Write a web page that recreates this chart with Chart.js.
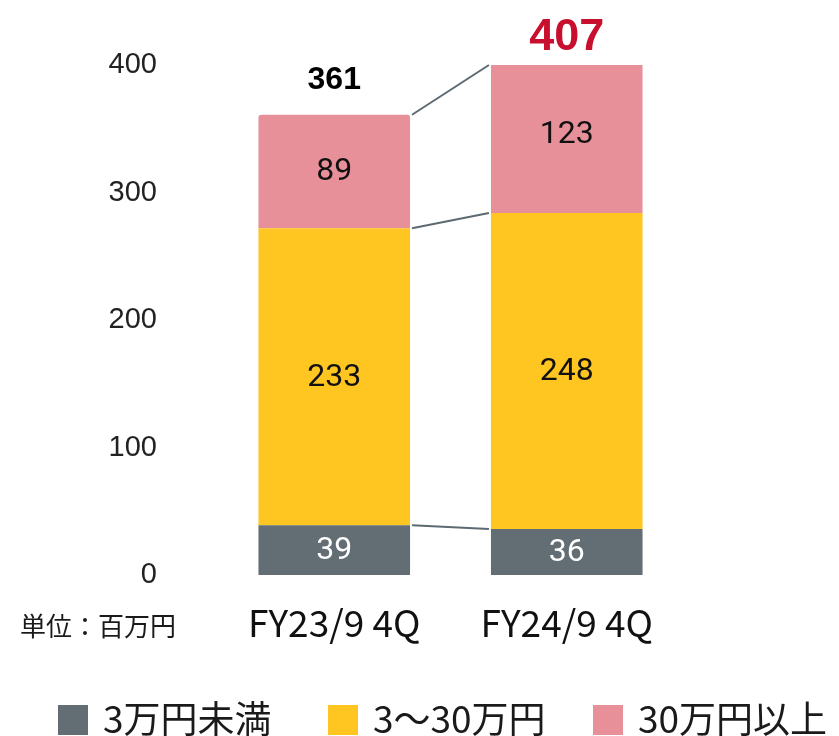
<!DOCTYPE html>
<html>
<head>
<meta charset="utf-8">
<script src="https://cdn.jsdelivr.net/npm/chart.js@4.4.1/dist/chart.umd.min.js"></script>
<style>
  html, body { margin: 0; padding: 0; background: #ffffff; }
  #c { display: block; }
</style>
</head>
<body>
<canvas id="c" width="839" height="736"></canvas>
<script>
// ---- data ----
const categories = ['FY23/9 4Q', 'FY24/9 4Q'];
const seriesNames = ['3万円未満', '3〜30万円', '30万円以上'];
const under3 = [39, 36];
const from3to30 = [233, 248];
const over30 = [89, 123];
const yTicks = [0, 100, 200, 300, 400];
const unitLabel = '単位：百万円';

const seriesValues = [under3, from3to30, over30];
const totals = categories.map((_, i) => seriesValues.reduce((s, arr) => s + arr[i], 0));

// ---- styles ----
const colors = ['#626e73', '#ffc520', '#e8909a'];
const inLabelColors = ['#ffffff', '#111111', '#111111'];
const cjk = '"Noto Sans CJK JP", "Noto Sans", sans-serif';

const overlay = {
  id: 'overlay',
  afterDatasetsDraw(chart) {
    const ctx = chart.ctx;
    const area = chart.chartArea;
    // connector lines
    ctx.save();
    ctx.strokeStyle = '#5d6a71';
    ctx.lineWidth = 2;
    chart.data.datasets.forEach((ds, d) => {
      const meta = chart.getDatasetMeta(d);
      const a = meta.data[0], b = meta.data[1];
      const ya = Math.max(a.y, area.top), yb = Math.max(b.y, area.top);
      ctx.beginPath();
      ctx.moveTo(a.x + a.width / 2 + 2, ya);
      ctx.lineTo(b.x - b.width / 2 - 2, yb);
      ctx.stroke();
    });
    ctx.restore();
    // inside labels
    ctx.save();
    ctx.textAlign = 'center';
    ctx.textBaseline = 'middle';
    ctx.font = '32px Roboto, "Liberation Sans", sans-serif';
    chart.data.datasets.forEach((ds, d) => {
      const meta = chart.getDatasetMeta(d);
      meta.data.forEach((bar, i) => {
        ctx.fillStyle = inLabelColors[d];
        ctx.fillText(String(ds.data[i]), bar.x, (bar.y + bar.base) / 2 + 1);
      });
    });
    ctx.restore();
    // totals
    const topMeta = chart.getDatasetMeta(chart.data.datasets.length - 1);
    ctx.save();
    ctx.textAlign = 'center';
    ctx.textBaseline = 'alphabetic';
    topMeta.data.forEach((bar, i) => {
      const yTop = Math.max(bar.y, area.top);
      if (i === 0) {
        ctx.font = 'bold 32px "Liberation Sans", Arial, sans-serif';
        ctx.fillStyle = '#000000';
        ctx.fillText(String(totals[i]), bar.x, yTop - 26);
      } else {
        ctx.font = 'bold 45px "Liberation Sans", Arial, sans-serif';
        ctx.fillStyle = '#c8102e';
        ctx.fillText(String(totals[i]), bar.x, yTop - 15);
      }
    });
    ctx.restore();
  },
  afterDraw(chart) {
    const ctx = chart.ctx;
    ctx.save();
    // unit label
    ctx.fillStyle = '#1a1a1a';
    ctx.font = '26px ' + cjk;
    ctx.textAlign = 'left';
    ctx.textBaseline = 'middle';
    ctx.fillText(unitLabel, 20, 626);
    // legend
    const boxX = [58, 328, 593];
    ctx.font = '37px ' + cjk;
    seriesNames.forEach((name, k) => {
      ctx.fillStyle = colors[k];
      ctx.fillRect(boxX[k], 705, 30, 30);
      ctx.fillStyle = '#1a1a1a';
      ctx.fillText(name, boxX[k] + 45, 719);
    });
    ctx.restore();
  }
};

new Chart(document.getElementById('c'), {
  type: 'bar',
  data: {
    labels: categories,
    datasets: seriesNames.map((name, k) => ({
      label: name,
      data: seriesValues[k],
      backgroundColor: colors[k],
      borderWidth: 0,
      borderRadius: k === 2 ? { topLeft: 3, topRight: 3 } : 0,
      borderSkipped: false
    }))
  },
  options: {
    responsive: false,
    animation: false,
    devicePixelRatio: 1,
    layout: { padding: { left: 0, right: 156, top: 65, bottom: 81 } },
    datasets: { bar: { categoryPercentage: 1, barPercentage: 0.652 } },
    plugins: { legend: { display: false }, tooltip: { enabled: false } },
    scales: {
      x: {
        stacked: true,
        grid: { display: false, drawTicks: false },
        border: { display: false },
        ticks: { color: '#111111', font: { family: cjk, size: 37 }, padding: 26 },
        afterFit(s) { s.height = 80; s.paddingLeft = 0; s.paddingRight = 0; }
      },
      y: {
        stacked: true,
        min: 0,
        max: 400,
        afterBuildTicks(s) { s.ticks = yTicks.map(v => ({ value: v })); },
        grid: { display: false, drawTicks: false },
        border: { display: false },
        ticks: { color: '#222222', font: { family: '"Liberation Sans", Arial, sans-serif', size: 29 }, padding: 61 },
        afterFit(s) { s.width = 218; s.paddingTop = 0; s.paddingBottom = 0; }
      }
    }
  },
  plugins: [overlay]
});
</script>
</body>
</html>
